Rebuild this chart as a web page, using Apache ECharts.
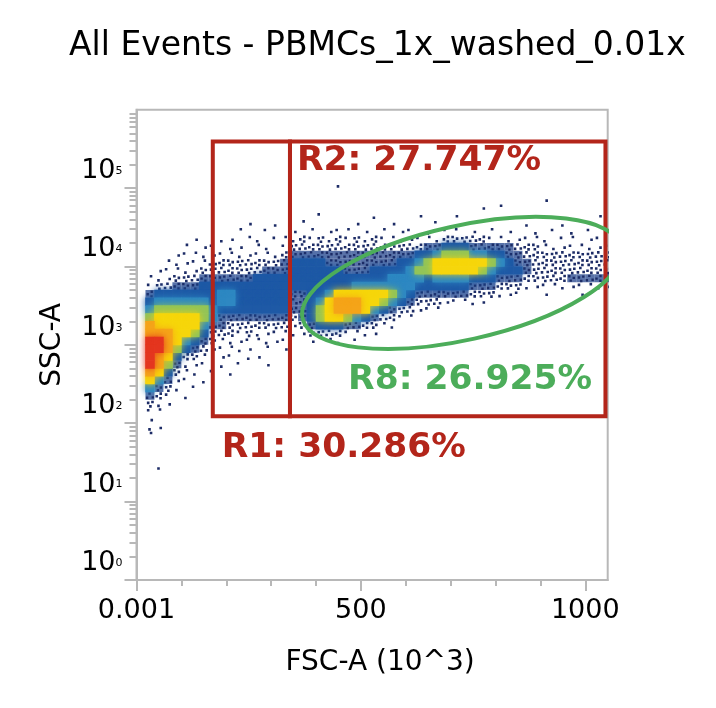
<!DOCTYPE html>
<html><head><meta charset="utf-8">
<script src="https://cdn.jsdelivr.net/npm/echarts@6/dist/echarts.min.js"></script>
<style>html,body{margin:0;padding:0;background:#fff;}#c{width:716px;height:708px;}</style>
</head><body><div id="c"></div>
<script>
// ---------- data ----------
const chartTitle = 'All Events - PBMCs_1x_washed_0.01x';
const xAxisName = 'FSC-A (10^3)';
const yAxisName = 'SSC-A';
const xMinorTicks = [0, 100, 200, 300, 400, 500, 600, 700, 800, 900, 1000];
const xMajorTicks = [0, 500, 1000];
const xTickLabels = ['0.001', '500', '1000'];
const yMajorTicks = [1, 10, 100, 1000, 10000, 100000];
const yTickExps = ['0', '1', '2', '3', '4', '5'];
const yMinorTicks = [2,3,4,5,6,7,8,9, 20,30,40,50,60,70,80,90, 200,300,400,500,600,700,800,900,
  2000,3000,4000,5000,6000,7000,8000,9000, 20000,30000,40000,50000,60000,70000,80000,90000,
  200000,300000,400000,500000,600000,700000,800000,900000];
// density grid: columns of 20 FSC units from 0,
// rows of 0.1 decade SSC, first row = [10^5.0, 10^5.1], going down. Level 0..9
const binWidth = 20;
const binDecades = 0.1;
const topRowLog = 5.0;
const densityRows = [
  "......................1",
  "",
  ".......... .......... .......... .......... .....1",
  ".......... .......... .......... ........1. 1",
  ".......... .......... 1.....1... .1...1.... .......... .1",
  ".......... ..1..1..1. ....1...1. ...1...... ...1...1",
  "........1. .1..1..1.1 .111.1.1.1 1.1.11.1.1 .1..1.1.1. 1",
  "......1..1 1.11.11121 2121212111 1111222221 111111.11. 11",
  ".....1.11. 11.11.1222 2222222222 2233444333 3322211111 111",
  "....111111 1111112333 3333333333 3445666554 4332222222 222",
  "...1111122 2222223444 4333333334 4567777776 5433222222 222",
  "..11111222 2222333444 4443334444 5667777765 4443222222 222",
  ".111222333 3334444444 4444444455 5545555444 3332222233 333",
  ".122333444 4444444444 4444555555 5444444333 2221111111 111",
  ".344444445 5444444334 4577777765 4333333222 111..1...1",
  ".455555545 5444444334 5788877654 322211111.",
  ".566666654 4444444334 6788875432 2111",
  ".677777653 3333333234 6776543221 1",
  ".877777533 2222222123 444332211.",
  ".888776422 2121111112 2221111",
  ".998754321 1111111..1 .11.1",
  ".998643211 111.1.1",
  ".987422111 1.11",
  ".9863111.1 .1..1",
  ".874211.1. 1",
  ".75311.1",
  ".5321.1",
  ".321.1",
  ".211",
  ".11",
  ".1",
  ".11",
  ".1",
  "",
  "",
  "",
  "..1"
];
// gates: rectangles [xMin, xMax, yMin, yMax]; ellipse [x1, x2, y1, y2, minor/major ratio] (major-axis ends)
const gateR1 = [170, 342, 123, 394000];
const gateR2 = [342, 1045, 123, 394000];
const gateR8 = [370, 1081, 2176, 17420, 0.349];
const gateLabels = ['R1: 30.286%', 'R2: 27.747%', 'R8: 26.925%'];

// ---------- styles ----------
const FONT = 'DejaVu Sans';
const RED = '#b3251a';
const GREEN = '#4cad5a';
const AXIS = '#b8b8b8';
const DOT = '#1d2c66';
const levelColors = [null, DOT, DOT, '#23448c', '#1f5aa6', '#2e88c2', '#93c458', '#f6d60c', '#f5a419', '#e4361f'];
// speckle patterns (fractions of a cell) for sparse levels
const speckles = [
  [[0.3, 0.35]], [[0.7, 0.6]], [[0.45, 0.78]], [[0.62, 0.25]]
];
const speckles2 = [
  [[0.22, 0.25], [0.72, 0.45], [0.38, 0.8]],
  [[0.7, 0.22], [0.25, 0.55], [0.68, 0.82]],
  [[0.45, 0.2], [0.82, 0.7], [0.18, 0.75]],
  [[0.3, 0.4], [0.78, 0.3], [0.55, 0.85]]
];
// label offsets (px) from gate anchors
const rectLabelOffset = [[9, 32, 'bottomLeft'], [7, 20, 'topLeft']];
const ellipseLabelOffset = [-114, 97];

const cells = [];
densityRows.forEach(function (row, r) {
  const s = row.replace(/ /g, '');
  const lo = topRowLog - r * binDecades;
  for (let c = 0; c < s.length; c++) {
    const ch = s[c];
    if (ch === '.') continue;
    cells.push([c * binWidth, (c + 1) * binWidth, Math.pow(10, lo), Math.pow(10, lo + binDecades), +ch, (c * 3 + r * 5) % 4]);
  }
});
cells.sort(function (a, b) { return a[4] - b[4]; });

const chart = echarts.init(document.getElementById('c'), null, {renderer: 'canvas'});
const tickStyle = {color: AXIS, width: 2};

function dotsFor(x, y, w, h, pts, size) {
  return pts.map(function (p) {
    return {type: 'rect', shape: {x: x + p[0] * w - size / 2, y: y + p[1] * h - size / 2, width: size, height: size}, style: {fill: DOT}};
  });
}

const labelFont = 'bold 34.5px "' + FONT + '"';

const option = {
  animation: false,
  backgroundColor: '#fff',
  title: {
    text: chartTitle, left: 64, top: 25,
    textStyle: {fontFamily: FONT, fontSize: 33, fontWeight: 'normal', color: '#000'}
  },
  grid: {left: 136.5, right: 108.3, top: 109.7, bottom: 128, show: true, borderColor: AXIS, borderWidth: 2, backgroundColor: 'transparent'},
  xAxis: [{
    type: 'value', min: 0, max: 1050, position: 'bottom',
    axisLine: {show: true, lineStyle: tickStyle},
    axisTick: {show: true, customValues: xMinorTicks, length: 6, lineStyle: tickStyle},
    axisLabel: {customValues: xMajorTicks, formatter: function (v) { return xTickLabels[xMajorTicks.indexOf(v)]; },
      fontFamily: FONT, fontSize: 27, color: '#000', margin: 17},
    splitLine: {show: false},
    name: xAxisName, nameLocation: 'middle', nameGap: 69,
    nameTextStyle: {fontFamily: FONT, fontSize: 28, color: '#000', padding: [0, 0, 0, 16]}
  }, {
    type: 'value', min: 0, max: 1050, position: 'bottom',
    axisLine: {show: false},
    axisTick: {show: true, customValues: xMajorTicks, length: 11, lineStyle: tickStyle},
    axisLabel: {show: false}, splitLine: {show: false}
  }],
  yAxis: [{
    type: 'log', logBase: 10, min: 1, max: 1000000, position: 'left',
    axisLine: {show: true, lineStyle: tickStyle},
    axisTick: {show: true, customValues: yMajorTicks, length: 12, lineStyle: tickStyle},
    axisLabel: {
      customValues: yMajorTicks,
      formatter: function (v) { return '{b|10}{s|' + yTickExps[yMajorTicks.indexOf(v)] + '}'; },
      margin: 14, verticalAlign: 'bottom',
      rich: {
        b: {fontFamily: FONT, fontSize: 27, color: '#000', lineHeight: 34},
        s: {fontFamily: FONT, fontSize: 11, color: '#000', lineHeight: 34}
      }
    },
    splitLine: {show: false},
    name: yAxisName, nameLocation: 'middle', nameGap: 70, nameRotate: 90,
    nameTextStyle: {fontFamily: FONT, fontSize: 28, color: '#000'}
  }, {
    type: 'log', logBase: 10, min: 1, max: 1000000, position: 'left',
    axisLine: {show: false},
    axisTick: {show: true, customValues: yMinorTicks, length: 7, lineStyle: tickStyle},
    axisLabel: {show: false}, splitLine: {show: false}
  }],
  series: [{
    type: 'custom', name: 'events', xAxisIndex: 0, yAxisIndex: 0, clip: true, silent: true, progressive: 0,
    data: cells, encode: {x: [0, 1], y: [2, 3]},
    renderItem: function (params, api) {
      const lv = api.value(4);
      const pat = api.value(5);
      const p0 = api.coord([api.value(0), api.value(2)]);
      const p1 = api.coord([api.value(1), api.value(3)]);
      const x = p0[0], y = p1[1], w = p1[0] - p0[0], h = p0[1] - p1[1];
      if (lv === 1) {
        return {type: 'group', children: dotsFor(x, y, w, h, speckles[pat], 2.6)};
      }
      if (lv === 2) {
        return {type: 'group', children: dotsFor(x, y, w, h, speckles2[pat], 2.6)};
      }
      if (lv === 3) {
        return {type: 'group', children: [
          {type: 'rect', shape: {x: x, y: y, width: w, height: h}, style: {fill: levelColors[3], opacity: 0.75}}
        ].concat(dotsFor(x, y, w, h, speckles2[pat], 2.4))};
      }
      return {type: 'rect', shape: {x: x - 0.3, y: y - 0.3, width: w + 0.6, height: h + 0.6},
        style: {fill: levelColors[lv], shadowBlur: 7, shadowColor: levelColors[lv]}};
    }
  }, {
    type: 'custom', name: 'rectGates', xAxisIndex: 0, yAxisIndex: 0, clip: false, silent: true,
    data: [gateR1, gateR2], encode: {x: [0, 1], y: [2, 3]},
    renderItem: function (params, api) {
      const p0 = api.coord([api.value(0), api.value(2)]);
      const p1 = api.coord([api.value(1), api.value(3)]);
      const off = rectLabelOffset[params.dataIndex];
      const ax = p0[0] + off[0];
      const ay = (off[2] === 'topLeft' ? p1[1] : p0[1]) + off[1];
      return {type: 'group', children: [
        {type: 'rect', shape: {x: p0[0], y: p1[1], width: p1[0] - p0[0], height: p0[1] - p1[1]},
          style: {fill: 'none', stroke: RED, lineWidth: 4}},
        {type: 'text', x: ax, y: ay, style: {text: gateLabels[params.dataIndex], fill: RED,
          font: labelFont, align: 'left', verticalAlign: 'middle'}}
      ]};
    }
  }, {
    type: 'custom', name: 'ellipseGate', xAxisIndex: 0, yAxisIndex: 0, clip: true, silent: true,
    data: [gateR8], encode: {x: [0, 1], y: [2, 3]},
    renderItem: function (params, api) {
      const a = api.coord([api.value(0), api.value(2)]);
      const b = api.coord([api.value(1), api.value(3)]);
      const cx = (a[0] + b[0]) / 2, cy = (a[1] + b[1]) / 2;
      const rx = Math.hypot(b[0] - a[0], b[1] - a[1]) / 2;
      const ry = rx * api.value(4);
      const ang = Math.atan2(-(b[1] - a[1]), b[0] - a[0]);
      return {type: 'group', children: [
        {type: 'ellipse', x: cx, y: cy, rotation: ang, shape: {cx: 0, cy: 0, rx: rx, ry: ry},
          style: {fill: 'none', stroke: GREEN, lineWidth: 4}},
        {type: 'text', x: cx + ellipseLabelOffset[0], y: cy + ellipseLabelOffset[1],
          style: {text: gateLabels[2], fill: GREEN, font: labelFont, align: 'left', verticalAlign: 'middle'}}
      ]};
    }
  }]
};
chart.setOption(option);
</script></body></html>
